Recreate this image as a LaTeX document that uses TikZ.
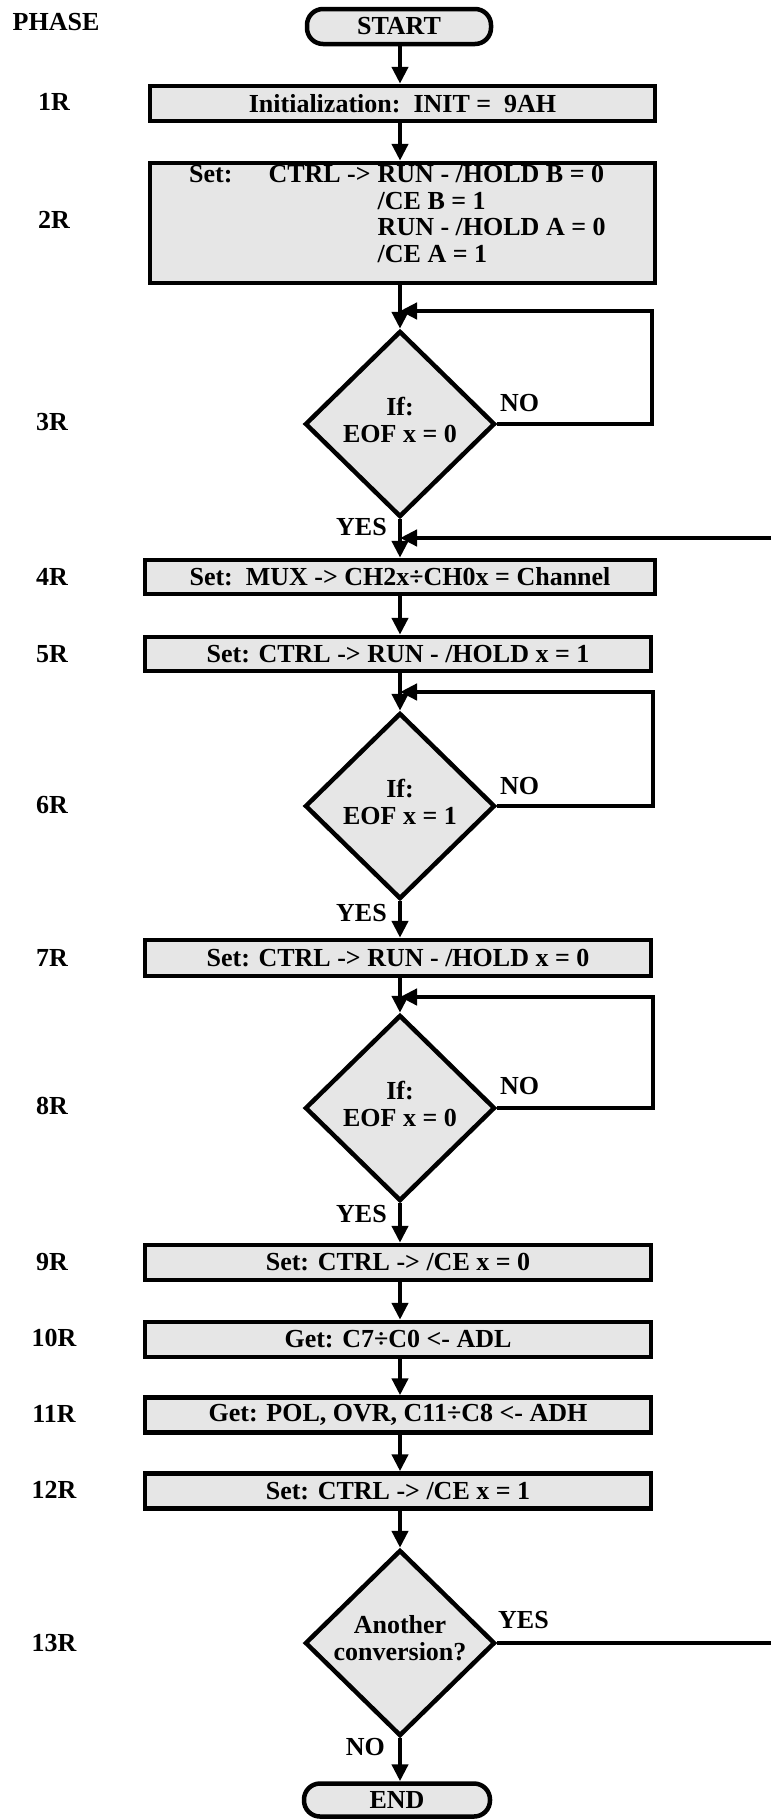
\documentclass[tikz,border=0pt]{standalone}
\usepackage{fontspec}
\setmainfont{Liberation Serif}
\usetikzlibrary{shapes.geometric,arrows.meta}
\definecolor{boxfill}{HTML}{E6E6E6}
\tikzset{
  every node/.style={font=\fontsize{26}{26.5}\selectfont\bfseries, text=black},
  proc/.style={draw, line width=4.5pt, fill=boxfill, inner sep=0pt, minimum height=35pt},
  term/.style={proc, rounded corners=16pt},
  dia/.style={draw, line width=4.5pt, fill=boxfill, diamond, inner sep=0pt, minimum width=190pt, minimum height=186pt},
  dtext/.style={inner sep=0pt, align=center},
  arr/.style={line width=4.5pt, -{Triangle[length=17pt,width=16pt]}},
  ln/.style={line width=4.5pt},
  lbl/.style={inner sep=0pt}
}
\begin{document}
\begin{tikzpicture}[x=1pt,y=-1pt]
\useasboundingbox (0,0) rectangle (771,1820);
\coordinate (ax) at (400,0);
% phase labels
\node[lbl] (p0) at (56,22) {PHASE};
\node[lbl] (p1) at (54,102) {1R};
\node[lbl] (p2) at (54,220) {2R};
\node[lbl] (p3) at (52,422) {3R};
\node[lbl] (p4) at (52,577) {4R};
\node[lbl] (p5) at (52,654) {5R};
\node[lbl] (p6) at (52,805) {6R};
\node[lbl] (p7) at (52,958) {7R};
\node[lbl] (p8) at (52,1106) {8R};
\node[lbl] (p9) at (52,1262) {9R};
\node[lbl] (p10) at (54,1338) {10R};
\node[lbl] (p11) at (54,1414) {11R};
\node[lbl] (p12) at (54,1490) {12R};
\node[lbl] (p13) at (54,1643) {13R};
% blocks
\node[term, minimum width=184pt] (start) at (399,26.5) {START};
\node[proc, minimum width=505pt] (b1) at (402.5,103.5) {Initialization:\ \ INIT =\ \ 9AH};
\node[proc, minimum width=505pt, minimum height=120pt] (b2) at (402.5,223) {};
\node[lbl, anchor=west] (t2) at (189,217) {\begin{tabular}{@{}l@{\hskip 36pt}l@{\hskip 7pt}l@{}}
Set: & CTRL -> & RUN - /HOLD B = 0\\
 & & /CE B = 1\\
 & & RUN - /HOLD A = 0\\
 & & /CE A = 1
\end{tabular}};
\node[dia] (d3) at (400,424) {};
\node[dtext] (d3t) at (400,420) {If:\\EOF x = 0};
\node[proc, minimum width=510pt, minimum height=34pt] (b4) at (400,577) {Set:\ \ MUX -> CH2x÷CH0x = Channel};
\node[proc, minimum width=506pt, minimum height=34pt] (b5) at (398,654) {Set: CTRL -> RUN - /HOLD x = 1};
\node[dia] (d6) at (400,806) {};
\node[dtext] (d6t) at (400,802) {If:\\EOF x = 1};
\node[proc, minimum width=506pt, minimum height=36pt] (b7) at (398,958) {Set: CTRL -> RUN - /HOLD x = 0};
\node[dia] (d8) at (400,1108) {};
\node[dtext] (d8t) at (400,1104) {If:\\EOF x = 0};
\node[proc, minimum width=506pt] (b9) at (398,1262.5) {Set: CTRL -> /CE x = 0};
\node[proc, minimum width=506pt] (b10) at (398,1339.5) {Get: C7÷C0 <- ADL};
\node[proc, minimum width=506pt] (b11) at (398,1415) {Get: POL, OVR, C11÷C8 <- ADH};
\node[proc, minimum width=506pt] (b12) at (398,1491) {Set: CTRL -> /CE x = 1};
\node[dia] (d13) at (400,1643) {};
\node[dtext] (d13t) at (400,1638) {Another\\conversion?};
\node[term, minimum width=186pt, minimum height=33pt] (end) at (397,1800) {END};
% decision labels
\node[lbl, anchor=west] (no3) at (500,403) {NO};
\node[lbl, anchor=east] (yes3) at (387,527) {YES};
\node[lbl, anchor=west] (no6) at (500,786) {NO};
\node[lbl, anchor=east] (yes6) at (387,913) {YES};
\node[lbl, anchor=west] (no8) at (500,1086) {NO};
\node[lbl, anchor=east] (yes8) at (387,1214) {YES};
\node[lbl, anchor=west] (yes13) at (498,1620) {YES};
\node[lbl, anchor=east] (no13) at (385,1747) {NO};
% loop corners
\coordinate (r3) at (652,311);
\coordinate (r6) at (653,692);
\coordinate (r8) at (653,997);
\coordinate (ret) at (771,538);
\coordinate (out) at (771,1643);
% connectors
\draw[arr] (start.south -| ax) -- (b1.north -| ax);
\draw[arr] (b1.south -| ax) -- (b2.north -| ax);
\draw[arr] (b2.south -| ax) -- (d3.north);
\draw[arr] (d3.east) -| (r3) -- (r3 -| ax);
\draw[arr] (d3.south) -- (b4.north -| ax);
\draw[arr] (ret) -- (ret -| ax);
\draw[arr] (b4.south -| ax) -- (b5.north -| ax);
\draw[arr] (b5.south -| ax) -- (d6.north);
\draw[arr] (d6.east) -| (r6) -- (r6 -| ax);
\draw[arr] (d6.south) -- (b7.north -| ax);
\draw[arr] (b7.south -| ax) -- (d8.north);
\draw[arr] (d8.east) -| (r8) -- (r8 -| ax);
\draw[arr] (d8.south) -- (b9.north -| ax);
\draw[arr] (b9.south -| ax) -- (b10.north -| ax);
\draw[arr] (b10.south -| ax) -- (b11.north -| ax);
\draw[arr] (b11.south -| ax) -- (b12.north -| ax);
\draw[arr] (b12.south -| ax) -- (d13.north);
\draw[ln] (d13.east) -- (out);
\draw[arr] (d13.south) -- (end.north -| ax);
\end{tikzpicture}
\end{document}
